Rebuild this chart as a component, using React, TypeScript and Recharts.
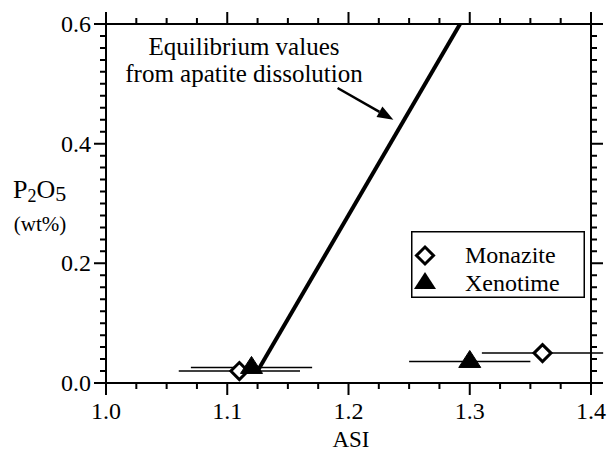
import React from 'react';
import { ComposedChart, Scatter, XAxis, YAxis, ErrorBar, ReferenceLine, Legend } from 'recharts';

const monazite = [
  { asi: 1.11, p2o5: 0.02, err: 0.05 },
  { asi: 1.36, p2o5: 0.05, err: 0.05 },
];
const xenotime = [
  { asi: 1.12, p2o5: 0.026, err: 0.05 },
  { asi: 1.3, p2o5: 0.036, err: 0.05 },
];
const equilibrium = [
  { asi: 1.125, p2o5: 0.02 },
  { asi: 1.292, p2o5: 0.6 },
];
const arrowSegment = [
  { x: 1.191, y: 0.493 },
  { x: 1.237, y: 0.44 },
];
const xTicks = [1.0, 1.025, 1.05, 1.075, 1.1, 1.125, 1.15, 1.175, 1.2, 1.225, 1.25, 1.275, 1.3, 1.325, 1.35, 1.375, 1.4];
const xMajor = [1.0, 1.1, 1.2, 1.3, 1.4];
const yTicks = [0, 0.02, 0.04, 0.06, 0.08, 0.1, 0.12, 0.14, 0.16, 0.18, 0.2, 0.22, 0.24, 0.26, 0.28, 0.3, 0.32, 0.34, 0.36, 0.38, 0.4, 0.42, 0.44, 0.46, 0.48, 0.5, 0.52, 0.54, 0.56, 0.58, 0.6];
const yMajor = [0, 0.2, 0.4, 0.6];
const xDomain = [1, 1.4];
const yDomain = [0, 0.6];

const FONT = '"Liberation Serif", "Times New Roman", serif';
const PLOT = { left: 106, right: 591, top: 24, bottom: 383 };
const isMajor = (list: number[], v: number) => list.some((m) => Math.abs(m - v) < 1e-9);
const px = (v: number) => PLOT.left + ((v - xDomain[0]) / (xDomain[1] - xDomain[0])) * (PLOT.right - PLOT.left);
const py = (v: number) => PLOT.bottom - ((v - yDomain[0]) / (yDomain[1] - yDomain[0])) * (PLOT.bottom - PLOT.top);

const BottomLabel = (p: any) => (
  <text x={p.x} y={p.y + 36} textAnchor="middle" fontSize={24} fontFamily={FONT} fill="#000">
    {Number(p.payload.value).toFixed(1)}
  </text>
);
const LeftLabel = (p: any) => (
  <text x={p.x - 15} y={p.y + 8} textAnchor="end" fontSize={24} fontFamily={FONT} fill="#000">
    {Number(p.payload.value).toFixed(1)}
  </text>
);

const Diamond = (p: any) => {
  const { cx, cy } = p;
  const r = 8.5;
  return <path d={`M${cx},${cy - r}L${cx + r},${cy}L${cx},${cy + r}L${cx - r},${cy}Z`} fill="#fff" stroke="#000" strokeWidth={3} />;
};
const Triangle = (p: any) => {
  const { cx, cy } = p;
  return <path d={`M${cx},${cy - 11}L${cx + 11},${cy + 6}L${cx - 11},${cy + 6}Z`} fill="#000" stroke="#000" strokeWidth={1} />;
};
const NoDot = () => <g />;

const ArrowShape = (p: any) => {
  const { x1, y1, x2, y2 } = p;
  const dx = x2 - x1;
  const dy = y2 - y1;
  const len = Math.sqrt(dx * dx + dy * dy);
  const ux = dx / len;
  const uy = dy / len;
  const hl = 16;
  const hw = 6;
  const bx = x2 - ux * hl;
  const by = y2 - uy * hl;
  return (
    <g>
      <line x1={x1} y1={y1} x2={bx} y2={by} stroke="#000" strokeWidth={2.5} />
      <path d={`M${x2},${y2}L${bx - uy * hw},${by + ux * hw}L${bx + uy * hw},${by - ux * hw}Z`} fill="#000" />
    </g>
  );
};

const LegendContent = (props: any) => {
  const items = (props.payload || []).filter((e: any) => e.value === 'Monazite' || e.value === 'Xenotime');
  return (
    <svg width={174} height={67} style={{ display: 'block' }}>
      <rect x={0.75} y={0.75} width={172.5} height={65.5} fill="#fff" stroke="#000" strokeWidth={1.5} />
      {items.map((e: any, i: number) => (
        <g key={e.value}>
          {e.value === 'Monazite' ? (
            <path d="M14,16L22.5,24.5L14,33L5.5,24.5Z" fill="#fff" stroke="#000" strokeWidth={3} />
          ) : (
            <path d="M14,41L25,58L3,58Z" fill="#000" />
          )}
          <text x={54} y={32 + i * 28} fontSize={24} fontFamily={FONT} fill="#000">
            {e.value}
          </text>
        </g>
      ))}
    </svg>
  );
};

const axisLine = { stroke: '#000', strokeWidth: 2 };

export default function App() {
  const tickPath =
    xTicks
      .map((v) => {
        const l = isMajor(xMajor, v) ? 12 : 6;
        const x = px(v);
        return `M${x},${PLOT.bottom}V${PLOT.bottom + l}M${x},${PLOT.top}V${PLOT.top - l}`;
      })
      .join('') +
    yTicks
      .map((v) => {
        const l = isMajor(yMajor, v) ? 12 : 6;
        const y = py(v);
        return `M${PLOT.left},${y}H${PLOT.left - l}M${PLOT.right},${y}H${PLOT.right + l}`;
      })
      .join('');
  return (
    <div style={{ position: 'absolute', left: 0, top: 0, width: 612, height: 452, background: '#fff' }}>
      <ComposedChart width={612} height={452} margin={{ top: 0, right: 0, bottom: 0, left: 0 }}>
        <XAxis
          xAxisId="bottom"
          dataKey="asi"
          type="number"
          domain={xDomain}
          ticks={xMajor}
          interval={0}
          allowDataOverflow
          height={69}
          axisLine={axisLine}
          tickLine={false}
          tickSize={0}
          tickMargin={0}
          tick={<BottomLabel />}
        />
        <XAxis
          xAxisId="top"
          orientation="top"
          type="number"
          domain={xDomain}
          ticks={xMajor}
          allowDataOverflow
          height={24}
          axisLine={axisLine}
          tickLine={false}
          tick={false}
        />
        <YAxis
          yAxisId="left"
          dataKey="p2o5"
          type="number"
          domain={yDomain}
          ticks={yMajor}
          interval={0}
          allowDataOverflow
          width={106}
          axisLine={axisLine}
          tickLine={false}
          tickSize={0}
          tickMargin={0}
          tick={<LeftLabel />}
        />
        <YAxis
          yAxisId="right"
          orientation="right"
          type="number"
          domain={yDomain}
          ticks={yMajor}
          allowDataOverflow
          width={21}
          axisLine={axisLine}
          tickLine={false}
          tick={false}
        />
        <Scatter
          name="Equilibrium"
          data={equilibrium}
          xAxisId="bottom"
          yAxisId="left"
          line={{ stroke: '#000', strokeWidth: 4 }}
          shape={<NoDot />}
          legendType="none"
          isAnimationActive={false}
        />
        <Scatter name="Monazite" data={monazite} xAxisId="bottom" yAxisId="left" shape={<Diamond />} isAnimationActive={false}>
          <ErrorBar dataKey="err" direction="x" width={0} stroke="#000" strokeWidth={1.5} />
        </Scatter>
        <Scatter name="Xenotime" data={xenotime} xAxisId="bottom" yAxisId="left" shape={<Triangle />} isAnimationActive={false}>
          <ErrorBar dataKey="err" direction="x" width={0} stroke="#000" strokeWidth={1.5} />
        </Scatter>
        <ReferenceLine
          xAxisId="bottom"
          yAxisId="left"
          segment={arrowSegment}
          ifOverflow="visible"
          shape={<ArrowShape />}
        />
        <Legend
          layout="horizontal"
          verticalAlign="middle"
          align="center"
          wrapperStyle={{ left: 411, top: 231, width: 174, height: 67 }}
          content={<LegendContent />}
        />
      </ComposedChart>
      <svg width={612} height={452} style={{ position: 'absolute', left: 0, top: 0, pointerEvents: 'none' }}>
        <path d={tickPath} stroke="#000" strokeWidth={2} fill="none" />
        <text x={244} y={55} textAnchor="middle" fontSize={25} fontFamily={FONT} fill="#000">
          Equilibrium values
        </text>
        <text x={244} y={82} textAnchor="middle" fontSize={25} fontFamily={FONT} fill="#000">
          from apatite dissolution
        </text>
        <text x={351} y={447} textAnchor="middle" fontSize={23} fontFamily={FONT} fill="#000">
          ASI
        </text>
        <text x={13} y={198} fontSize={26} fontFamily={FONT} fill="#000">
          P<tspan fontSize={18} dy={4}>2</tspan>
          <tspan fontSize={26} dy={-4}>O</tspan>
          <tspan fontSize={22} dy={3}>5</tspan>
        </text>
        <text x={40} y={231} textAnchor="middle" fontSize={21} fontFamily={FONT} fill="#000">
          (wt%)
        </text>
      </svg>
    </div>
  );
}
